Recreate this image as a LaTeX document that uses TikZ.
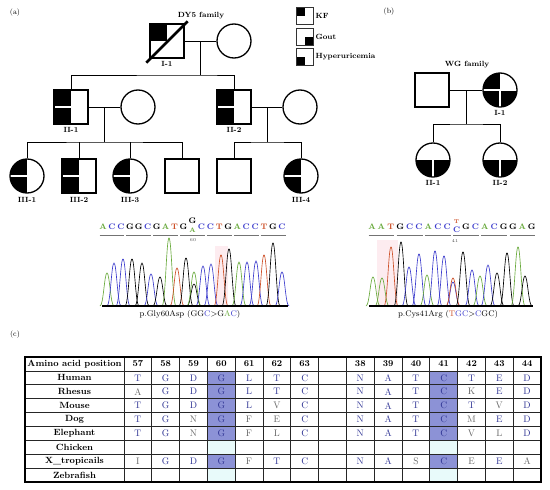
\documentclass[tikz,border=0pt]{standalone}
\usetikzlibrary{calc}
\definecolor{cb}{RGB}{50,55,150}
\definecolor{cg}{RGB}{105,105,105}
\definecolor{cA}{RGB}{105,170,60}
\definecolor{cC}{RGB}{60,60,205}
\definecolor{cT}{RGB}{205,80,40}
\definecolor{hlb}{RGB}{140,146,214}
\definecolor{hlc}{RGB}{232,250,250}
\definecolor{pinkbg}{RGB}{253,236,240}
\newcommand\pk[3]{\draw[#3,line width=0.65pt] (#1-7,306) .. controls (#1-3.6,306) and (#1-2.6,#2) .. (#1,#2) .. controls (#1+2.6,#2) and (#1+3.6,306) .. (#1+7,306);}
\newcommand\aarow[3]{%
  \foreach \l/\col [count=\i] in {#2} {\node[aa,text=\col] at ({124+27.8*(\i-0.5)},{357+13.9*(#1+0.5)}) {\l};}
  \foreach \l/\col [count=\i] in {#3} {\node[aa,text=\col] at ({124+27.8*(\i+7.5)},{357+13.9*(#1+0.5)}) {\l};}
}
\begin{document}
\begin{tikzpicture}[x=1pt,y=-1pt,
  sym/.style={draw=black, line width=1.3pt, minimum size=34pt, inner sep=0pt, fill=white},
  sq/.style={sym, rectangle},
  ci/.style={sym, circle},
  lg/.style={draw=black!80, line width=0.8pt, minimum size=17pt, inner sep=0pt, fill=white, rectangle},
  lbl/.style={font=\fontsize{7.5}{8}\selectfont\bfseries, inner sep=1pt, label distance=1.5pt},
  lgl/.style={font=\fontsize{7.5}{9}\selectfont\bfseries, inner sep=1.5pt},
  conn/.style={draw=black, line width=0.9pt},
  kfq/.style={path picture={\fill[black] (path picture bounding box.north west) rectangle (path picture bounding box.center);}},
  goutq/.style={path picture={\fill[black] (path picture bounding box.center) rectangle (path picture bounding box.south east);}},
  hypq/.style={path picture={\fill[black] (path picture bounding box.center) rectangle (path picture bounding box.south west);}},
  lefthalf/.style={path picture={\fill[black] (path picture bounding box.north west) rectangle (path picture bounding box.south);
     \draw[white,line width=1.8pt] (path picture bounding box.west) -- (path picture bounding box.center);}},
  bothalf/.style={path picture={\fill[black] (path picture bounding box.west) rectangle (path picture bounding box.south east);
     \draw[white,line width=1.8pt] (path picture bounding box.center) -- (path picture bounding box.south);}},
  threeq/.style={path picture={\fill[black] (path picture bounding box.west) rectangle (path picture bounding box.south east);
     \fill[black] (path picture bounding box.north west) rectangle (path picture bounding box.center);
     \draw[white,line width=1.8pt] (path picture bounding box.west) -- (path picture bounding box.east) (path picture bounding box.center) -- (path picture bounding box.south);}},
  pl/.style={font=\fontsize{7.5}{9}\selectfont, inner sep=0pt},
  sl/.style={font=\fontsize{8}{9}\selectfont\bfseries, inner sep=0pt},
  captxt/.style={font=\fontsize{8.2}{9}\selectfont, inner sep=0pt},
  hd/.style={font=\fontsize{9}{10}\selectfont\bfseries, inner sep=0pt},
  aa/.style={font=\fontsize{9.5}{10}\selectfont, inner sep=0pt},
]
\useasboundingbox[fill=white] (0,0) rectangle (550,490);

% ---------- panel labels
\node[pl] (pa) at (15,13) {(a)};
\node[pl] (pb) at (389,12) {(b)};
\node[pl] (pc) at (15,335) {(c)};

% ---------- legend
\node[lg,kfq,label={[lgl]right:KF}] (L1) at (305,16) {};
\node[lg,goutq,label={[lgl]right:Gout}] (L2) at (305,36.5) {};
\node[lg,hypq,label={[lgl]right:Hyperuricemia}] (L3) at (305,57) {};

% ---------- DY5 family
\node[font=\fontsize{7.5}{9}\selectfont\bfseries, inner sep=0pt] (t1) at (201,16) {DY5 family};
\node[sq,kfq,label={[lbl]below:I-1}] (I1) at (167,41) {};
\node[ci] (I1w) at (234,41) {};
\node[sq,lefthalf,label={[lbl]below:II-1}] (II1) at (71,107) {};
\node[ci] (II1w) at (138,107) {};
\node[sq,lefthalf,label={[lbl]below:II-2}] (II2) at (234,107) {};
\node[ci] (II2w) at (300,107) {};
\node[ci,lefthalf,label={[lbl,label distance=2.5pt]below:III-1}] (III1) at (27,176) {};
\node[sq,lefthalf,label={[lbl,label distance=2.5pt]below:III-2}] (III2) at (79,176) {};
\node[ci,lefthalf,label={[lbl,label distance=2.5pt]below:III-3}] (III3) at (130,176) {};
\node[sq] (IIIa) at (182,176) {};
\node[sq] (IIIb) at (234,176) {};
\node[ci,lefthalf,label={[lbl,label distance=2.5pt]below:III-4}] (III4) at (301,176) {};
\draw[line width=2.6pt] ($(I1.south west)+(-3,4)$) -- ($(I1.north east)+(3,-2)$);

\coordinate (m1) at ($(I1.east)!0.5!(I1w.west)$);
\coordinate (s1) at ($(m1)+(0,34)$);
\draw[conn] (I1.east) -- (I1w.west);
\draw[conn] (m1) -- (s1);
\draw[conn] (II1.north) |- (s1) -| (II2.north);

\coordinate (m2) at ($(II1.east)!0.5!(II1w.west)$);
\coordinate (s2) at ($(m2)+(0,35)$);
\draw[conn] (II1.east) -- (II1w.west);
\draw[conn] (m2) -- (s2);
\draw[conn] (III1.north) |- (s2) -| (IIIa.north);
\draw[conn] (III2.north) -- (III2.north |- s2);
\draw[conn] (III3.north) -- (III3.north |- s2);

\coordinate (m3) at ($(II2.east)!0.5!(II2w.west)$);
\coordinate (s3) at ($(m3)+(0,35)$);
\draw[conn] (II2.east) -- (II2w.west);
\draw[conn] (m3) -- (s3);
\draw[conn] (IIIb.north) |- (s3) -| (III4.north);

% ---------- WG family
\node[font=\fontsize{7.5}{9}\selectfont\bfseries, inner sep=0pt] (t2) at (467,65) {WG family};
\node[sq] (W1) at (432,90) {};
\node[ci,threeq,label={[lbl]below:I-1}] (W2) at (500,90) {};
\node[ci,bothalf,label={[lbl]below:II-1}] (W3) at (433,160) {};
\node[ci,bothalf,label={[lbl]below:II-2}] (W4) at (500,160) {};
\coordinate (m4) at ($(W1.east)!0.5!(W2.west)$);
\coordinate (s4) at ($(m4)+(0,34)$);
\draw[conn] (W1.east) -- (W2.west);
\draw[conn] (m4) -- (s4);
\draw[conn] (W3.north) |- (s4) -| (W4.north);

% ---------- chromatogram left
\fill[pinkbg] (215,246) rectangle (228,305);
\foreach \l/\col [count=\k from 0] in {A/cA,C/cC,C/cC,G/black,G/black,C/cC,G/black,A/cA,T/cT,G/black}
  {\node[sl,text=\col] at ({103+8.95*\k},227) {\l};}
\foreach \l/\col [count=\k from 11] in {C/cC,C/cC,T/cT,G/black,A/cA,C/cC,C/cC,T/cT,G/black,C/cC}
  {\node[sl,text=\col] at ({103+8.95*\k},227) {\l};}
\node[sl] at (192.5,220.5) {G};
\node[sl,text=cA,font=\fontsize{6.5}{7}\selectfont\bfseries] at (192.5,230.5) {A};
\node[inner sep=0pt,font=\fontsize{4.5}{5}\selectfont,text=black!70] at (193,240.5) {60};
\foreach \a in {0,3,6,9,12,15,18}
  \draw[black!55,line width=0.7pt] ({103+8.95*\a-3.5},235) -- ({103+8.95*(\a+2)+3.5},235);
\foreach \x/\t/\col in {107/273/cA,114/263/cC,123/259/cC,132/259/black,142/263/black,151/274/cC,160/277/black,169/238/cA,177/268/cT,186/258/black,194/284/black,194/272/cA,203/266/cC,211/264/cC,221/255/cT,229/249/black,239/262/cA,247/262/cC,256/261/cC,264/255/cT,273/243/black,282/272/cC}
  {\pk{\x}{\t}{\col}}
\draw[line width=1.8pt] (102,306) -- (288,306);
\node[captxt] (capL) at (190,314.5) {p.Gly60Asp (GG\textcolor{cC}{C}>G\textcolor{cA}{A}\textcolor{cC}{C})};

% ---------- chromatogram right
\fill[pinkbg] (377,240) rectangle (398,305);
\foreach \l/\col [count=\k from 0] in {A/cA,A/cA,T/cT,G/black,C/cC,C/cC,A/cA,C/cC,C/cC}
  {\node[sl,text=\col] at ({372+9.4*\k},227) {\l};}
\foreach \l/\col [count=\k from 10] in {G/black,C/cC,A/cA,C/cC,G/black,G/black,A/cA,G/black}
  {\node[sl,text=\col] at ({372+9.4*\k},227) {\l};}
\node[sl,text=cT,font=\fontsize{5.5}{6}\selectfont\bfseries] at (456.6,222) {T};
\node[sl,text=cC] at (456.6,230) {C};
\node[inner sep=0pt,font=\fontsize{4.5}{5}\selectfont,text=black!70] at (455,240.5) {41};
\foreach \a in {0,3,6,9,12,15}
  \draw[black!55,line width=0.7pt] ({372+9.4*\a-3.5},235) -- ({372+9.4*(\a+2)+3.5},235);
\foreach \x/\t/\col in {373/277/cA,382/278/cA,391/247/cT,401/242/black,409/267/cC,419/254/cC,427/275/cA,435/251/cC,444/256/cC,453/282/cC,453/278/cT,463/252/black,472/270/cC,480/276/cA,488/265/cC,497/273/black,507/253/black,518/247/cA,525/276/black}
  {\pk{\x}{\t}{\col}}
\draw[line width=1.8pt] (369,306) -- (533,306);
\node[captxt] (capR) at (448,314.5) {p.Cys41Arg (\textcolor{cT}{T}\textcolor{cC}{GC}>\textcolor{cC}{C}GC)};

% ---------- table
\foreach \cx in {207.4,429.8} {
  \foreach \j in {1,...,5,7} \fill[hlb] (\cx,{357+13.9*\j}) rectangle ++(27.8,13.9);
  \foreach \j in {6,8} \fill[hlc] (\cx,{357+13.9*\j}) rectangle ++(27.8,13.9);
}
\foreach \j in {1,...,8} \draw[black!85,line width=0.8pt] (25,{357+13.9*\j}) -- (541,{357+13.9*\j});
\draw[black!85,line width=0.8pt] (124,357) -- (124,482);
\foreach \i in {1,...,14} \draw[black!85,line width=0.8pt] ({124+27.8*\i},357) -- ({124+27.8*\i},482);
\draw[black,line width=1.3pt] (25,357) rectangle (541,482);

\node[hd] at (74.5,{357+13.9*0.5}) {Amino acid position};
\foreach \n [count=\j] in {Human,Rhesus,Mouse,Dog,Elephant,Chicken,X\_tropicails,Zebrafish}
  \node[hd] at (74.5,{357+13.9*(\j+0.5)}) {\n};
\foreach \n [count=\i] in {57,58,59,60,61,62,63}
  \node[hd] at ({124+27.8*(\i-0.5)},{357+13.9*0.5}) {\n};
\foreach \n [count=\i] in {38,39,40,41,42,43,44}
  \node[hd] at ({124+27.8*(\i+7.5)},{357+13.9*0.5}) {\n};

\aarow{1}{T/cb,G/cb,D/cb,G/cb,L/cb,T/cb,C/cb}{N/cb,A/cb,T/cb,C/cb,T/cb,E/cb,D/cb}
\aarow{2}{A/cg,G/cb,D/cb,G/cb,L/cb,T/cb,C/cb}{N/cb,A/cb,T/cb,C/cb,K/cg,E/cb,D/cb}
\aarow{3}{T/cb,G/cb,D/cb,G/cb,L/cb,V/cg,C/cb}{N/cb,A/cb,T/cb,C/cb,T/cb,V/cg,D/cb}
\aarow{4}{T/cb,G/cb,N/cg,G/cb,F/cg,E/cg,C/cb}{N/cb,A/cb,T/cb,C/cb,M/cg,E/cb,D/cb}
\aarow{5}{T/cb,G/cb,N/cg,G/cb,F/cg,L/cg,C/cb}{N/cb,A/cb,T/cb,C/cb,V/cg,L/cg,D/cb}
\aarow{7}{I/cg,G/cb,D/cb,G/cb,F/cg,T/cb,C/cb}{N/cb,A/cb,S/cg,C/cb,E/cg,E/cb,A/cg}
\end{tikzpicture}
\end{document}
